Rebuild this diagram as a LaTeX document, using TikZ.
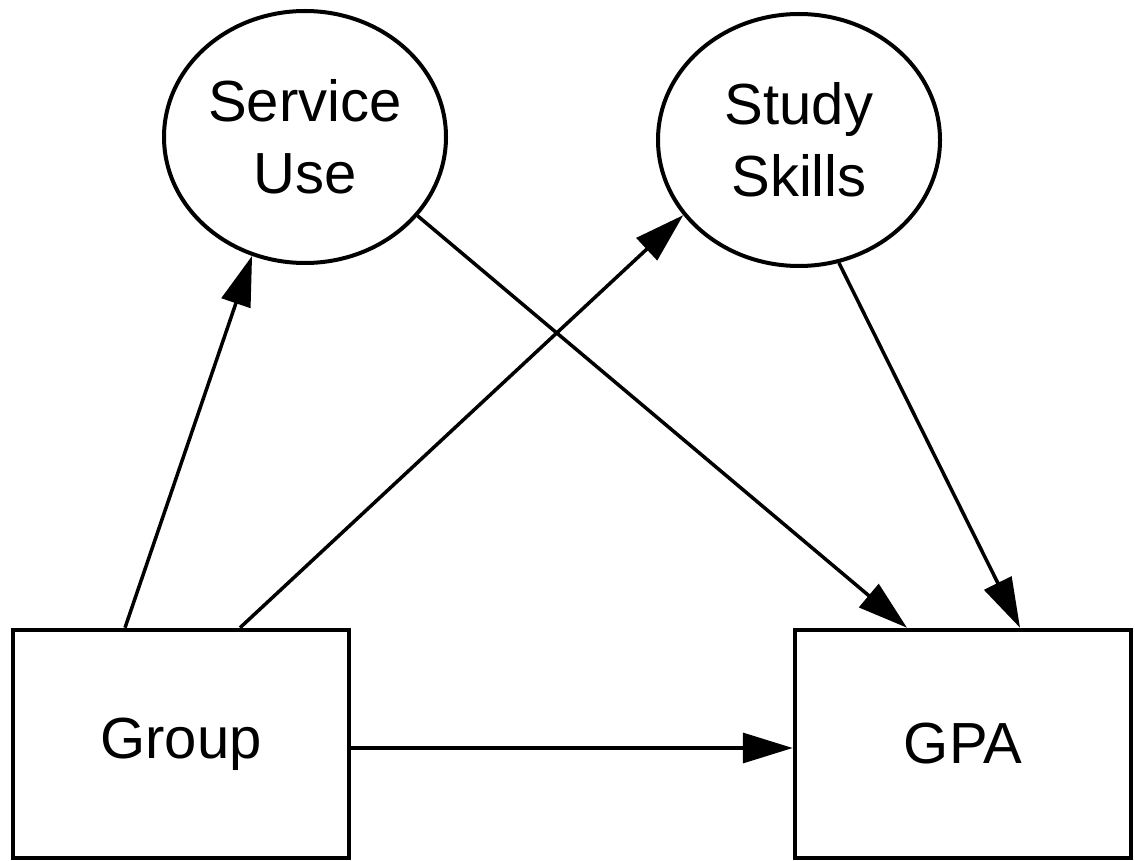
\documentclass[tikz,border=0pt]{standalone}
\usepackage{fontspec}
\setmainfont{Liberation Sans}
\usetikzlibrary{shapes.geometric,arrows.meta}

\begin{document}
\begin{tikzpicture}[x=1pt,y=-1pt,
    every node/.style={font=\fontsize{58}{72}\selectfont, align=center},
    latent/.style={draw, ellipse, line width=4pt, minimum width=282pt, minimum height=252pt, inner sep=0pt},
    observed/.style={draw, rectangle, line width=4.5pt, minimum width=336pt, minimum height=228pt, inner sep=0pt},
    effect/.style={line width=3.5pt, -{Triangle[length=50pt,width=30pt]}}]
    \useasboundingbox (0,0) rectangle (1135,861); % same size as the figure

    \node[latent] (service) at (305,137) {Service\\Use};
    \node[latent] (skills) at (799,140) {Study\\Skills};
    \node[observed] (group) at (181,744) {Group};
    \node[observed] (gpa) at (963,744) {GPA};

    \draw[effect] ([xshift=-56pt]group.north) -- (service.246.6);
    \draw[effect] ([xshift=59pt]group.north) -- (skills.213.6);
    \draw[effect] (service.325.2) -- ([xshift=-56pt]gpa.north);
    \draw[effect] (skills.288.4) -- ([xshift=57pt]gpa.north);
    \draw[effect] ([yshift=-4pt]group.east) -- ([yshift=-4pt]gpa.west);
\end{tikzpicture}
\end{document}
